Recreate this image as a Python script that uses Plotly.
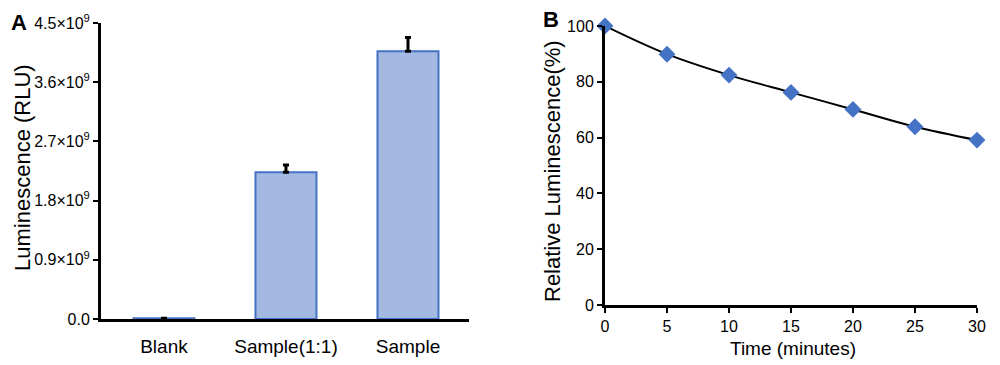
import plotly.graph_objects as go

# Panel A data
categories = ["Blank", "Sample(1:1)", "Sample"]
luminescence = [0.01e9, 2.23e9, 4.07e9]
lum_error = [None, 0.11e9, 0.21e9]
a_tickvals = [0, 0.9e9, 1.8e9, 2.7e9, 3.6e9, 4.5e9]
a_ticktext = ["0.0", "0.9×10<sup>9</sup>", "1.8×10<sup>9</sup>", "2.7×10<sup>9</sup>",
              "3.6×10<sup>9</sup>", "4.5×10<sup>9</sup>"]

# Panel B data
time_min = [0, 5, 10, 15, 20, 25, 30]
relative_lum = [100, 89.9, 82.4, 76.2, 70.1, 63.9, 59.1]

FONT = "Liberation Sans, Arial, sans-serif"

W, H = 1000, 365
OX, OY = 8, 8


def px(x):
    return (x - OX) / W


def py(y):
    return 1 - (y - OY) / H


fig = go.Figure()

fig.add_trace(go.Bar(
    x=[0, 1, 2], y=luminescence, width=0.5,
    marker=dict(color="#A3B9E1", line=dict(color="#4472C4", width=2)),
    error_y=dict(type="data", array=lum_error, arrayminus=[0, 0, 0], symmetric=False,
                 color="black", thickness=3, width=3),
    xaxis="x", yaxis="y", showlegend=False,
))

fig.add_trace(go.Scatter(
    x=time_min, y=relative_lum, mode="lines+markers",
    line=dict(color="black", width=2, shape="spline"),
    marker=dict(symbol="diamond", size=13, color="#4472C4"),
    cliponaxis=False,
    xaxis="x2", yaxis="y2", showlegend=False,
))

common = dict(showline=True, linecolor="black", linewidth=3, showgrid=False,
              zeroline=False, automargin=False)

fig.update_layout(
    width=W, height=H, autosize=False, showlegend=False,
    margin=dict(l=0, r=0, t=0, b=0, pad=0, autoexpand=False),
    paper_bgcolor="white", plot_bgcolor="white",
    font=dict(family=FONT, color="black"),
    xaxis=dict(domain=[px(101), px(469)], range=[-0.516, 2.5], anchor="y",
               tickvals=[0, 1, 2], ticktext=categories, ticks="",
               tickfont=dict(size=19), ticklabelstandoff=8, **common),
    yaxis=dict(domain=[py(319), py(23)], range=[0, 4.5e9], anchor="x",
               tickvals=a_tickvals, ticktext=a_ticktext,
               ticks="outside", ticklen=5, tickwidth=2, tickcolor="black",
               tickfont=dict(size=16), **common),
    xaxis2=dict(domain=[px(605), px(977)], range=[0, 30], anchor="y2",
                tickvals=time_min, ticks="outside", ticklen=5, tickwidth=2, tickcolor="black",
                tickfont=dict(size=16), **common),
    yaxis2=dict(domain=[py(305), py(26)], range=[0, 100], anchor="x2",
                tickvals=[0, 20, 40, 60, 80, 100], ticks="outside", ticklen=5,
                tickwidth=2, tickcolor="black", tickfont=dict(size=16), **common),
    annotations=[
        dict(text="<b>A</b>", x=19, y=8, yanchor="top", showarrow=False, font=dict(size=22)),
        dict(text="<b>B</b>", x=551, y=20, yanchor="middle", showarrow=False,
             font=dict(size=22)),
        dict(text="Luminescence (RLU)", x=22, y=168, yanchor="middle", textangle=-90,
             showarrow=False, font=dict(size=22)),
        dict(text="Relative Luminescence(%)", x=552, y=171, yanchor="middle", textangle=-90,
             showarrow=False, font=dict(size=22)),
        dict(text="Time (minutes)", x=793, y=348, yanchor="middle", showarrow=False,
             font=dict(size=19)),
    ],
)

for ann in fig.layout.annotations:
    ann.xref = "paper"
    ann.yref = "paper"
    ann.x = px(ann.x)
    ann.y = py(ann.y)
    ann.xanchor = "center"

fig.write_html("out.html")
